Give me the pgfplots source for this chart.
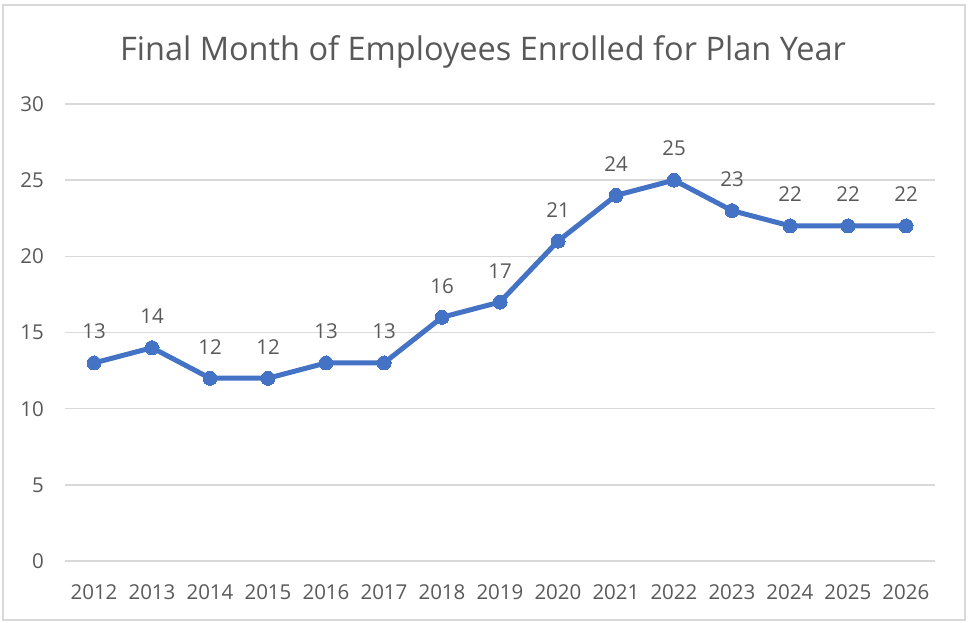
\documentclass[border=0pt]{standalone}
\usepackage{fontspec}
\setmainfont{Open Sans}
\usepackage{pgfplots}
\pgfplotsset{compat=1.18}
\definecolor{linec}{HTML}{4472C4}
\definecolor{txt}{HTML}{595959}
\definecolor{gridc}{HTML}{D9D9D9}
\begin{document}
\begin{tikzpicture}[x=1pt,y=1pt]
\useasboundingbox (0,0) rectangle (488.5,311);
\draw[gridc, line width=0.75pt] (1.5,1) rectangle (482.5,308.5);
\node[txt, font=\fontsize{16.25}{19}\selectfont] at (241.5,285) {Final Month of Employees Enrolled for Plan Year};
\begin{axis}[
  at={(32.5pt,30.5pt)}, anchor=south west,
  scale only axis, width=435pt, height=228.5pt,
  xmin=2011.5, xmax=2026.5, ymin=0, ymax=30,
  xtick={2012,...,2026}, ytick={0,5,...,30},
  xticklabel style={/pgf/number format/set thousands separator={}},
  /pgf/number format/assume math mode=true,
  ticklabel style={font=\fontsize{10.25}{13}\selectfont, text=txt},
  xticklabel style={yshift=-8.5pt},
  yticklabel style={xshift=-7pt},
  axis line style={draw=none},
  major tick length=0pt,
  ymajorgrids, grid style={gridc, line width=0.75pt},
  clip=false,
  nodes near coords,
  every node near coord/.append style={font=\fontsize{10.25}{13}\selectfont, text=txt, anchor=south, inner sep=0pt, yshift=12pt},
]
\addplot[linec, line width=2.5pt, mark=*, mark size=3.5pt, mark options={fill=linec, draw=linec, line width=0pt}] coordinates {
(2012,13) (2013,14) (2014,12) (2015,12) (2016,13) (2017,13) (2018,16) (2019,17) (2020,21) (2021,24) (2022,25) (2023,23) (2024,22) (2025,22) (2026,22)
};
\end{axis}
\end{tikzpicture}
\end{document}
